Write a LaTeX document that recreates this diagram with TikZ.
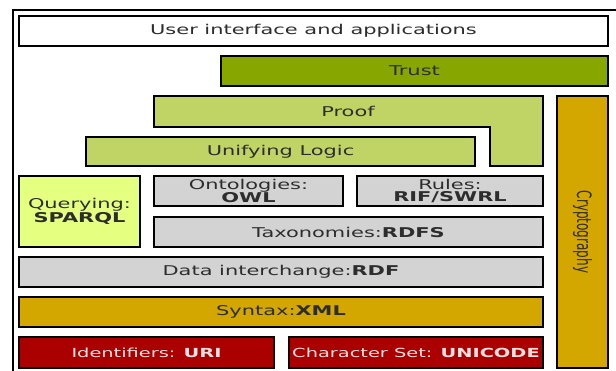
\documentclass[tikz,border=0pt]{standalone}
\usepackage{fontspec}
\setmainfont[FakeStretch=1.55]{DejaVu Sans}
\newfontfamily\plainfont{DejaVu Sans}
\usepackage{xcolor}
\usepackage{tikz}

\definecolor{textgray}{RGB}{45,45,45}
\definecolor{trustgreen}{RGB}{136,166,0}
\definecolor{proofgreen}{RGB}{191,212,100}
\definecolor{queryyellow}{RGB}{229,255,128}
\definecolor{layergray}{RGB}{211,211,211}
\definecolor{xmlgold}{RGB}{212,166,0}
\definecolor{urired}{RGB}{170,0,0}
\definecolor{redtext}{RGB}{245,225,225}

\begin{document}
\begin{tikzpicture}[x=1pt, y=-1pt,
  block/.style={draw=black, line width=2.2pt},
  layer/.style={block, inner sep=0pt, text=textgray, align=center,
                font=\fontsize{13.5}{12.5}\selectfont}]
\useasboundingbox (0,0) rectangle (616,370);
\fill [white] (0,0) rectangle (616,370);
\draw [line width=1.6pt] (13,375) -- (13,10) -- (620,10);

\node [layer, fill=white, minimum width=589pt, minimum height=30pt] (ui) at (313.5,31) {User interface and applications};
\node [layer, fill=trustgreen, minimum width=387pt, minimum height=30pt] (trust) at (414.5,71) {Trust};
\draw [block, fill=proofgreen] (154,96) -- (543,96) -- (543,166) -- (490,166) -- (490,127) -- (154,127) -- cycle;
\node [text=textgray, font=\fontsize{13.5}{12.5}\selectfont] (proof) at (348,111.5) {Proof};
\node [layer, fill=proofgreen, minimum width=389pt, minimum height=29pt] (logic) at (280.5,151.5) {Unifying Logic};
\node [layer, fill=xmlgold, minimum width=51pt, minimum height=272pt] (crypto) at (582.5,232)
  {\rotatebox{-90}{\scalebox{1}[1.65]{\plainfont\fontsize{12}{12}\selectfont Cryptography}}};

\node [layer, fill=queryyellow, minimum width=121pt, minimum height=71pt] (sparql) at (79.5,211.5) {Querying:\\\textbf{SPARQL}};
\node [layer, fill=layergray, minimum width=189pt, minimum height=30pt] (owl) at (248.5,191) {Ontologies:\\\textbf{OWL}};
\node [layer, fill=layergray, minimum width=186pt, minimum height=30pt] (rules) at (450,191) {Rules:\\\textbf{RIF/SWRL}};
\node [layer, fill=layergray, minimum width=389pt, minimum height=30pt] (rdfs) at (348.5,232) {Taxonomies:\textbf{RDFS}};
\node [layer, fill=layergray, minimum width=524pt, minimum height=30pt] (rdf) at (281,272) {Data interchange:\textbf{RDF}};
\node [layer, fill=xmlgold, minimum width=524pt, minimum height=30pt] (xml) at (281,312) {Syntax:\textbf{XML}};

\node [layer, fill=urired, text=redtext, font=\fontsize{12.5}{12}\selectfont, minimum width=255pt, minimum height=31pt] (uri) at (146.5,352.5) {Identifiers: \textbf{URI}};
\node [layer, fill=urired, text=redtext, font=\fontsize{12.5}{12}\selectfont, minimum width=254pt, minimum height=31pt] (unicode) at (416,352.5) {Character Set: \textbf{UNICODE}};
\end{tikzpicture}
\end{document}
